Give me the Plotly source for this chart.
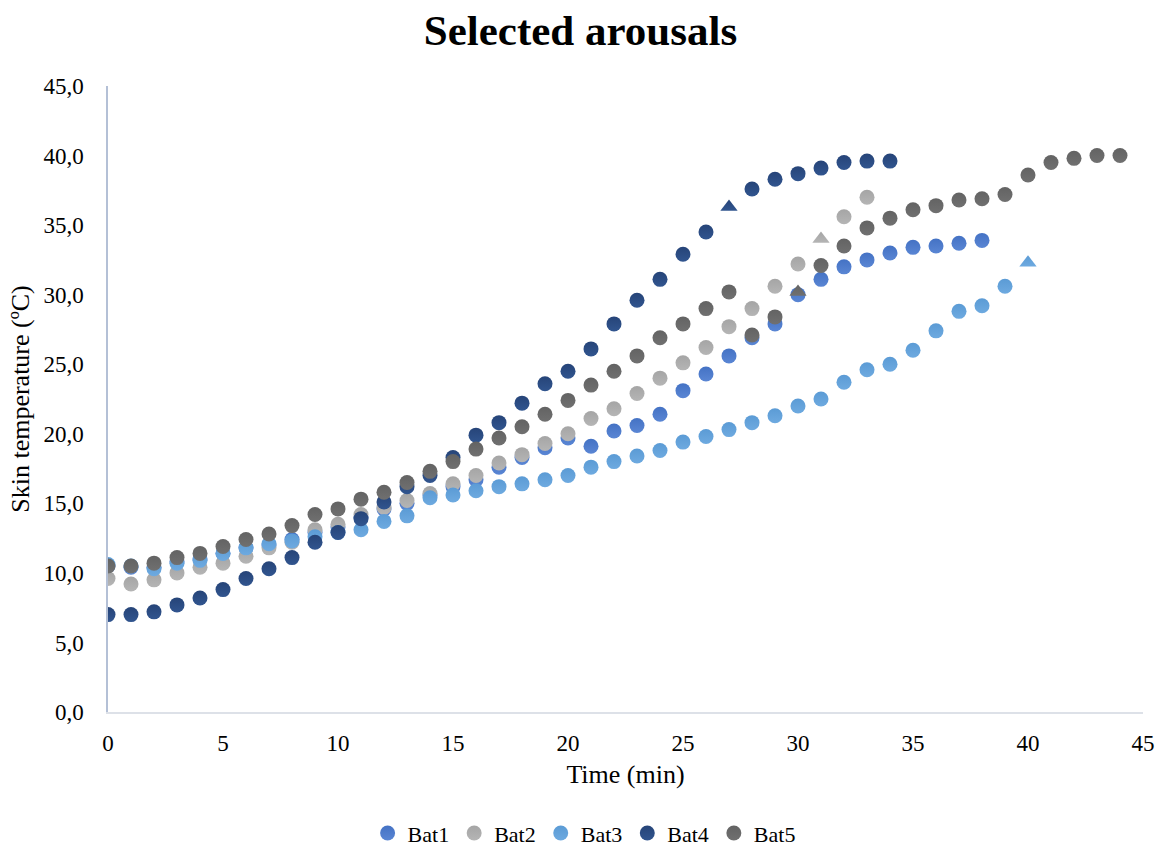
import plotly.graph_objects as go

# Skin temperature (ºC) per minute for each bat during arousal
bat1 = [10.5, 10.4, 10.4, 10.8, 11.0, 11.4, 11.8, 12.0, 12.4, 12.9, 13.3, 14.0, 14.6, 15.0,
        15.6, 16.2, 16.7, 17.6, 18.3, 19.0, 19.7, 19.1, 20.2, 20.6, 21.4, 23.1, 24.3, 25.6,
        26.9, 27.9, 30.0, 31.1, 32.0, 32.5, 33.0, 33.4, 33.5, 33.7, 33.9]
bat2 = [9.6, 9.2, 9.5, 10.0, 10.4, 10.7, 11.2, 11.8, 12.2, 13.1, 13.5, 14.2, 14.7, 15.2,
        15.7, 16.4, 17.0, 17.9, 18.5, 19.3, 20.0, 21.1, 21.8, 22.9, 24.0, 25.1, 26.2, 27.7,
        29.0, 30.6, 32.2, 34.0, 35.6, 37.0]
bat3 = [10.6, 10.5, 10.3, 10.7, 10.9, 11.4, 11.8, 12.1, 12.3, 12.6, 12.9, 13.1, 13.7, 14.1,
        15.4, 15.6, 15.9, 16.2, 16.4, 16.7, 17.0, 17.6, 18.0, 18.4, 18.8, 19.4, 19.8, 20.3,
        20.8, 21.3, 22.0, 22.5, 23.7, 24.6, 25.0, 26.0, 27.4, 28.8, 29.2, 30.6, 32.3]
bat4 = [7.0, 7.0, 7.2, 7.7, 8.2, 8.8, 9.6, 10.3, 11.1, 12.2, 12.9, 13.9, 15.1, 16.2,
        17.0, 18.3, 19.9, 20.8, 22.2, 23.6, 24.5, 26.1, 27.9, 29.6, 31.1, 32.9, 34.5, 36.3,
        37.6, 38.3, 38.7, 39.1, 39.5, 39.6, 39.6]
bat5 = [10.5, 10.5, 10.7, 11.1, 11.4, 11.9, 12.4, 12.8, 13.4, 14.2, 14.6, 15.3, 15.8, 16.5,
        17.3, 18.0, 18.9, 19.7, 20.5, 21.4, 22.4, 23.5, 24.5, 25.6, 26.9, 27.9, 29.0, 30.2,
        27.1, 28.4, 30.2, 32.1, 33.5, 34.8, 35.5, 36.1, 36.4, 36.8, 36.9, 37.2, 38.6, 39.5,
        39.8, 40.0, 40.0]

names = ["Bat1", "Bat2", "Bat3", "Bat4", "Bat5"]
series = [bat1, bat2, bat3, bat4, bat5]
# minute at which each bat's arousal point is flagged (drawn as a triangle)
flag_minute = [None, 31, 40, 27, 30]
colors = ["#4472C4", "#A5A5A5", "#5B9BD5", "#264478", "#636363"]
shade = ["#5a86d4", "#b5b5b5", "#6eaae0", "#31558f", "#707070"]

serif = "Liberation Serif, Times New Roman, serif"

fig = go.Figure()
for name, ys, flag, col, sh in zip(names, series, flag_minute, colors, shade):
    minutes = list(range(len(ys)))
    symbols = ["triangle-up" if m == flag else "circle" for m in minutes]
    fig.add_trace(go.Scatter(
        x=minutes, y=ys, name=name, mode="markers",
        marker=dict(size=15, color=col, symbol=symbols,
                    gradient=dict(type="vertical", color=sh),
                    line=dict(width=0)),
    ))

fig.update_layout(
    width=1161, height=852,
    margin=dict(l=108, r=18, t=86, b=140, autoexpand=False),
    paper_bgcolor="white", plot_bgcolor="white",
    separators=",.",
    font=dict(family=serif, size=23, color="#000000"),
    title=dict(text="<b>Selected arousals</b>", x=0.5, xanchor="center",
               y=0.965, yanchor="middle",
               font=dict(family=serif, size=43, color="#000000")),
    showlegend=True,
    legend=dict(orientation="h", x=0.46, xanchor="center",
                yref="container", y=0.022, yanchor="middle",
                font=dict(family=serif, size=22), itemwidth=30,
                traceorder="normal"),
    xaxis=dict(range=[0, 45], dtick=5, tick0=0, showgrid=False, zeroline=False,
               showline=True, linecolor="#dde1e8", linewidth=1.5, ticks="",
               ticklabelstandoff=10, automargin=False,
               title=dict(text="Time (min)", font=dict(family=serif, size=26), standoff=9),
               tickfont=dict(family=serif, size=23)),
    yaxis=dict(range=[0, 45], dtick=5, tick0=0, showgrid=False, zeroline=False,
               showline=True, linecolor="#b4c0d6", linewidth=1.5, ticks="",
               tickformat=".1f", ticklabelstandoff=18, automargin=False,
               title=dict(text="Skin temperature (ºC)", font=dict(family=serif, size=26),
                          standoff=6),
               tickfont=dict(family=serif, size=23)),
)

fig.write_html("out.html")
